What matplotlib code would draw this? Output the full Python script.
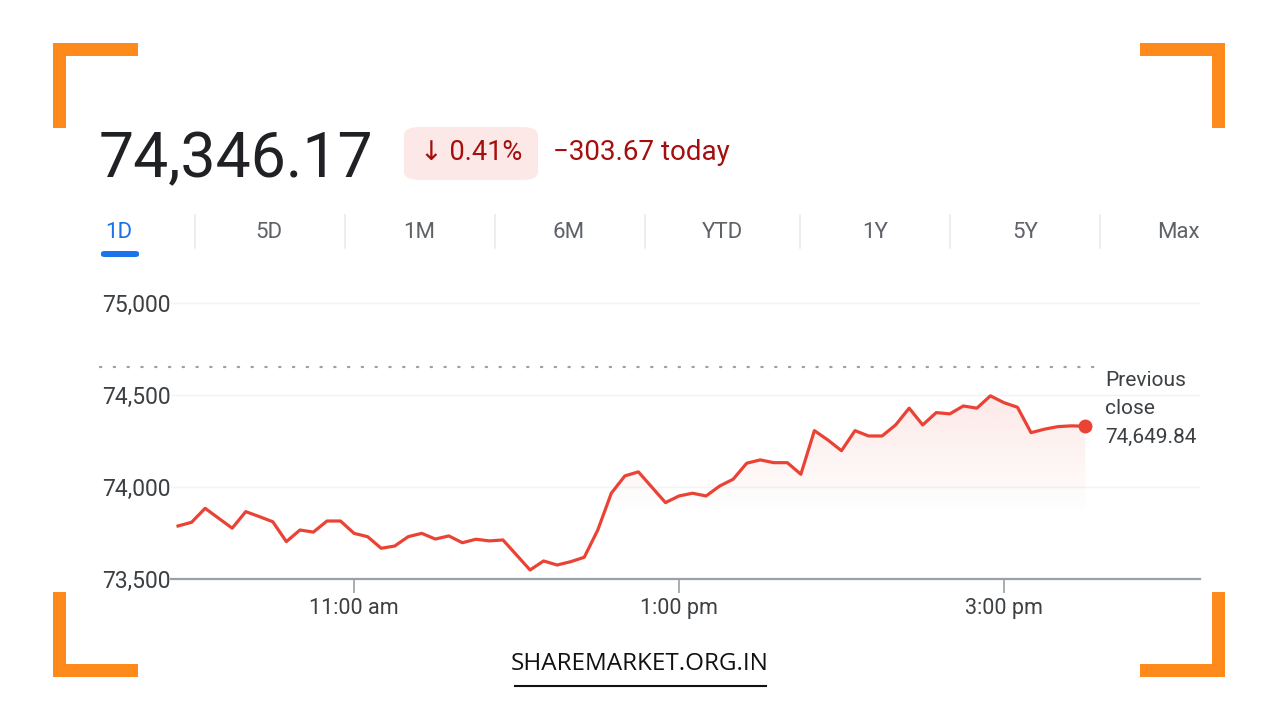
import numpy as np
import matplotlib
matplotlib.use("Agg")
import matplotlib.pyplot as plt
from matplotlib.patches import FancyBboxPatch, Rectangle
from matplotlib.ticker import FuncFormatter

# intraday values (5 min steps), time as "HH:MM"
times = ["09:55", "10:00", "10:05", "10:15", "10:20", "10:25", "10:30", "10:35", "10:40", "10:45",
         "10:50", "10:55", "11:00", "11:05", "11:10", "11:15", "11:20", "11:25", "11:30", "11:35",
         "11:40", "11:45", "11:50", "11:55", "12:05", "12:10", "12:15", "12:20", "12:25", "12:30",
         "12:35", "12:40", "12:45", "12:55", "13:00", "13:05", "13:10", "13:15", "13:20", "13:25",
         "13:30", "13:35", "13:40", "13:45", "13:50", "13:55", "14:00", "14:05", "14:10", "14:15",
         "14:20", "14:25", "14:30", "14:35", "14:40", "14:45", "14:50", "14:55", "15:00", "15:05",
         "15:10", "15:15", "15:20", "15:25", "15:30"]
prices = [73788, 73808, 73884, 73776, 73866, 73839, 73811, 73703, 73766, 73755,
          73815, 73815, 73748, 73730, 73667, 73679, 73730, 73748, 73717, 73734,
          73697, 73716, 73707, 73712, 73549, 73598, 73576, 73594, 73618, 73766,
          73966, 74060, 74082, 73915, 73951, 73966, 73951, 74005, 74042, 74129,
          74147, 74132, 74132, 74069, 74306, 74255, 74197, 74306, 74277, 74277,
          74337, 74428, 74337, 74404, 74397, 74440, 74428, 74495, 74458, 74433,
          74295, 74314, 74328, 74332, 74330]
prev_close = 74649.84
last_price = "74,346.17"
pct_change = "↓ 0.41%"
abs_change = "−303.67 today"
tabs = ["1D", "5D", "1M", "6M", "YTD", "1Y", "5Y", "Max"]
y_ticks = [73500, 74000, 74500, 75000]
x_tick_labels = {"11:00": "11:00 am", "13:00": "1:00 pm", "15:00": "3:00 pm"}

plt.rcParams['font.family'] = ['Roboto', 'DejaVu Sans']

W, H = 1280, 720
fig = plt.figure(figsize=(12.8, 7.2), dpi=100)
fig.patch.set_facecolor("white")


def fx(x):
    return x / W


def fy(y):
    return 1 - y / H


def to_min(t):
    h, m = t.split(":")
    return int(h) * 60 + int(m)


mins = np.array([to_min(t) for t in times])
vals = np.array(prices, dtype=float)

RED = "#ea4335"
ORANGE = "#ff8a1c"

# main chart
ax = fig.add_axes([fx(171), fy(579), fx(1200) - fx(171), fy(290) - fy(579)])
ax.set_xlim(592.4, 972.4)
ax.set_ylim(73500, 75070)
for s in ["top", "right", "left"]:
    ax.spines[s].set_visible(False)
ax.spines["bottom"].set_color("#9aa0a6")
ax.spines["bottom"].set_linewidth(1.6)
ax.set_yticks(y_ticks)
ax.yaxis.set_major_formatter(FuncFormatter(lambda v, p: f"{int(v):,}"))
ax.tick_params(axis="y", length=0, pad=0, labelsize=16.5, labelcolor="#3c4043")
xt = [to_min(t) for t in x_tick_labels]
ax.set_xticks(xt)
ax.set_xticklabels(list(x_tick_labels.values()))
ax.tick_params(axis="x", length=10, width=1.2, color="#9aa0a6", pad=4,
               labelsize=15.5, labelcolor="#3c4043")
for v in y_ticks[1:]:
    ax.axhline(v, color="#f1f3f4", lw=1.0, zorder=0)

# previous close dotted line (extends left under the labels)
ax.plot([566, 936], [prev_close, prev_close], color="#9aa0a6", lw=1.6,
        ls=(0, (0.6, 5.6)), dash_capstyle="round", clip_on=False, zorder=1)

# gradient fill under the line
poly = ax.fill_between(mins, vals, 73500, color="none", lw=0)
grad = np.zeros((200, 2, 4))
grad[..., 0] = 234 / 255
grad[..., 1] = 67 / 255
grad[..., 2] = 53 / 255
yy = np.linspace(74550, 73500, 200)
alpha = np.clip((yy - 73850) / (74550 - 73850), 0, 1) * 0.13
grad[..., 3] = alpha[:, None]
im = ax.imshow(grad, extent=[mins[0], mins[-1], 73500, 74550], aspect="auto",
               origin="upper", zorder=1)
im.set_clip_path(poly.get_paths()[0], transform=ax.transData)

ax.plot(mins, vals, color=RED, lw=2.3, solid_joinstyle="round", zorder=3)
ax.plot(mins[-1], vals[-1], "o", color=RED, ms=9, zorder=4)

fig.text(fx(1105), fy(381), "Previous", fontsize=15, color="#3c4043", va="center")
fig.text(fx(1105), fy(409), "close", fontsize=15, color="#3c4043", va="center")
fig.text(fx(1105), fy(437), f"{prev_close:,.2f}", fontsize=15, color="#3c4043", va="center")

# header
fig.text(fx(99), fy(177), last_price, fontsize=45, color="#202124", va="baseline")
badge = FancyBboxPatch((fx(404), fy(180)), fx(538) - fx(404), fy(127) - fy(180),
                       boxstyle="round,pad=0,rounding_size=0.012",
                       transform=fig.transFigure, fc="#fce8e6", ec="none")
fig.patches.append(badge)
fig.text(fx(471), fy(153), pct_change, fontsize=19.5, color="#a50e0e",
         ha="center", va="center")
fig.text(fx(553), fy(153), abs_change, fontsize=20, color="#a50e0e", va="center")

# tabs
tab_x = [119, 269, 419, 569, 722, 875, 1025, 1178]
for i, (lab, x) in enumerate(zip(tabs, tab_x)):
    fig.text(fx(x), fy(232), lab, fontsize=16, ha="center", va="center",
             color="#1a73e8" if i == 0 else "#5f6368")
for x in [195, 345, 495, 645, 800, 950, 1100]:
    fig.add_artist(plt.Line2D([fx(x), fx(x)], [fy(215), fy(248)], color="#e8eaed", lw=1.2))
fig.patches.append(FancyBboxPatch((fx(101), fy(257)), fx(139) - fx(101), fy(251) - fy(257),
                                  boxstyle="round,pad=0,rounding_size=0.003",
                                  transform=fig.transFigure, fc="#1a73e8", ec="none"))

# orange corner brackets
t = 13
L = 85
corners = [(53, 43, 1, 1), (1225, 43, -1, 1), (53, 677, 1, -1), (1225, 677, -1, -1)]
for cx, cy, sx, sy in corners:
    x0 = cx if sx > 0 else cx - L
    y_h = cy if sy > 0 else cy - t
    fig.patches.append(Rectangle((fx(x0), fy(y_h + t)), fx(L), fy(0) - fy(t),
                                 transform=fig.transFigure, fc=ORANGE, ec="none"))
    xv = cx if sx > 0 else cx - t
    yv = cy if sy > 0 else cy - L
    fig.patches.append(Rectangle((fx(xv), fy(yv + L)), fx(t), fy(0) - fy(L),
                                 transform=fig.transFigure, fc=ORANGE, ec="none"))

# watermark
fig.text(fx(640), fy(664), "SHAREMARKET.ORG.IN", fontsize=17.5, ha="center", va="center",
         color="#111111", family="Open Sans")
fig.add_artist(plt.Line2D([fx(515), fx(766)], [fy(686), fy(686)], color="#111111", lw=1.5))

fig.savefig("out.png", dpi=100, facecolor="white")
